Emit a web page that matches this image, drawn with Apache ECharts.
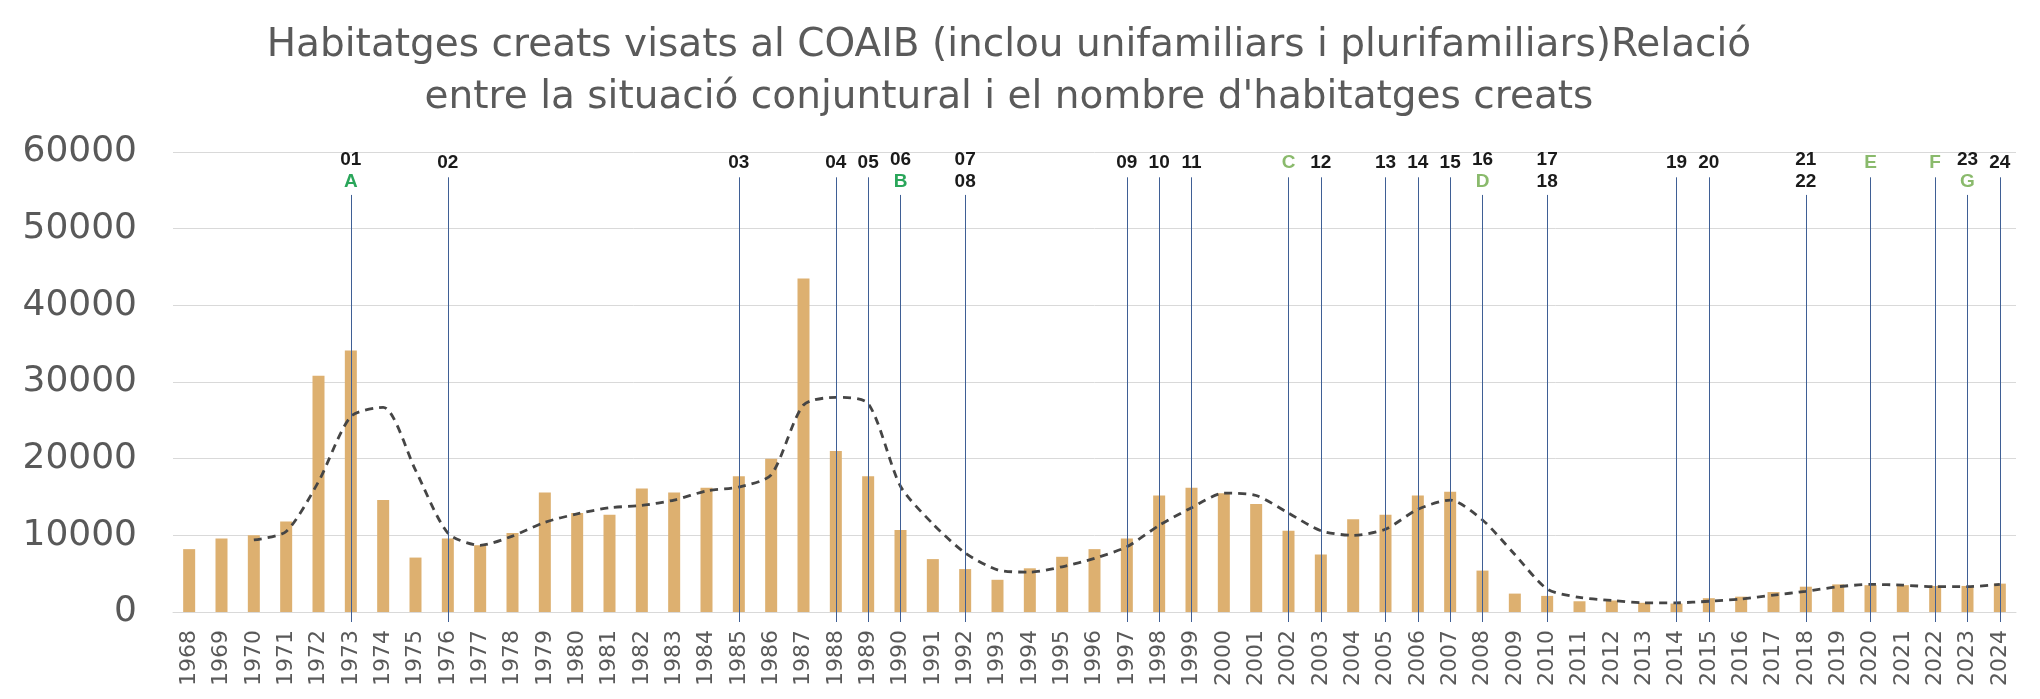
<!DOCTYPE html>
<html>
<head>
<meta charset="utf-8">
<script src="https://cdn.jsdelivr.net/npm/echarts@6/dist/echarts.min.js"></script>
<style>
  html, body { margin: 0; padding: 0; background: #fff; }
  #chart { width: 2040px; height: 699px; }
</style>
</head>
<body>
<div id="chart"></div>
<script>
const years = ['1968', '1969', '1970', '1971', '1972', '1973', '1974', '1975', '1976', '1977',
  '1978', '1979', '1980', '1981', '1982', '1983', '1984', '1985', '1986', '1987',
  '1988', '1989', '1990', '1991', '1992', '1993', '1994', '1995', '1996', '1997',
  '1998', '1999', '2000', '2001', '2002', '2003', '2004', '2005', '2006', '2007',
  '2008', '2009', '2010', '2011', '2012', '2013', '2014', '2015', '2016', '2017',
  '2018', '2019', '2020', '2021', '2022', '2023', '2024']

// habitatges creats (barres)
const habitatges = [8200, 9600, 10000, 11800, 30800, 34100, 14600, 7100, 9600, 8700,
  10300, 15600, 12900, 12700, 16100, 15600, 16200, 17700, 20000, 43500,
  21000, 17700, 10700, 6900, 5600, 4200, 5700, 7200, 8200, 9600,
  15200, 16200, 15500, 14100, 10600, 7500, 12100, 12700, 15200, 15700,
  5400, 2400, 2100, 1400, 1500, 1200, 1100, 1800, 2000, 2600,
  3300, 3600, 3500, 3500, 3400, 3400, 3700]

// tendència (línia discontínua)
const tendencia = [null, null, 9400, 10500, 17000, 25500, 26700, 18500, 10300, 8700,
  9900, 11700, 12800, 13600, 13900, 14600, 15800, 16300, 17900, 27000,
  28000, 27200, 16400, 11500, 7700, 5500, 5200, 5900, 7000, 8500,
  11300, 13600, 15500, 15200, 12900, 10600, 10000, 10800, 13400, 14600,
  12000, 7500, 3000, 1900, 1500, 1200, 1200, 1400, 1700, 2200,
  2700, 3300, 3600, 3500, 3300, 3300, 3600]

// marques de situació conjuntural
const markYears = ['1973', '1976', '1985', '1988', '1989', '1990', '1992', '1997', '1998', '1999',
  '2002', '2003', '2005', '2006', '2007', '2008', '2010', '2014', '2015', '2018',
  '2020', '2022', '2023', '2024']
const markTop = ['01', '02', '03', '04', '05', '06', '07', '09', '10', '11',
  'C', '12', '13', '14', '15', '16', '17', '19', '20', '21',
  'E', 'F', '23', '24']
const markBottom = ['A', '', '', '', '', 'B', '08', '', '', '',
  '', '', '', '', '', 'D', '18', '', '', '22',
  '', '', 'G', '']

const brightLetters = ['A', 'B']
const yTicks = ['0', '10000', '20000', '30000', '40000', '50000', '60000']

const styleOf = (t) => {
  if (/^\d+$/.test(t)) return 'n'
  return brightLetters.includes(t) ? 'g' : 'l'
}

const markData = markYears.map((y, i) => {
  const two = markBottom[i] !== ''
  let text = '{' + styleOf(markTop[i]) + '|' + markTop[i] + '}'
  if (two) text += '\n{' + styleOf(markBottom[i]) + '|' + markBottom[i] + '}'
  return [
    { coord: [y, 0], label: { formatter: text, distance: two ? 2 : 4 } },
    { coord: [y, two ? 54400 : 56700] }
  ]
})

const labelFont = { fontFamily: 'Liberation Sans', fontWeight: 'bold', fontSize: 19, lineHeight: 22 }

const chart = echarts.init(document.getElementById('chart'))

const options = {
  backgroundColor: '#fff',
  animation: false,
  title: {
    text: 'Habitatges creats visats al COAIB (inclou unifamiliars i plurifamiliars)Relació\nentre la situació conjuntural i el nombre d\'habitatges creats',
    left: 1004,
    top: 15,
    textAlign: 'center',
    textStyle: {
      fontFamily: 'DejaVu Sans',
      fontWeight: 'normal',
      fontSize: 39,
      lineHeight: 52,
      color: '#5a5a5a'
    }
  },
  grid: {
    left: 173,
    right: 24,
    top: 152,
    bottom: 87,
    containLabel: false
  },
  xAxis: {
    type: 'category',
    data: years,
    axisLine: { lineStyle: { color: '#d9d9d9' } },
    axisTick: {
      show: true,
      alignWithLabel: true,
      length: 10,
      interval: (idx, val) => markYears.includes(val),
      lineStyle: { color: '#3f5f95', width: 1 }
    },
    axisLabel: {
      interval: 0,
      rotate: 90,
      margin: 18,
      fontFamily: 'DejaVu Sans',
      fontSize: 22,
      color: '#595959'
    }
  },
  yAxis: {
    type: 'value',
    min: 0,
    max: 60000,
    interval: 10000,
    splitLine: { lineStyle: { color: '#d9d9d9' } },
    axisLabel: {
      margin: 36,
      fontFamily: 'DejaVu Sans',
      fontSize: 36,
      color: '#595959',
      formatter: (v) => yTicks[Math.round(v / 10000)]
    }
  },
  series: [
    {
      name: 'Habitatges',
      type: 'bar',
      data: habitatges,
      barWidth: 12,
      itemStyle: { color: '#ddb070' },
      markLine: {
        silent: true,
        symbol: ['none', 'none'],
        lineStyle: { color: '#3f5f95', width: 1, type: 'solid' },
        label: {
          position: 'end',
          rich: {
            n: Object.assign({ color: '#1a1a1a' }, labelFont),
            g: Object.assign({ color: '#2aa65a' }, labelFont),
            l: Object.assign({ color: '#8aba6c' }, labelFont)
          }
        },
        data: markData
      }
    },
    {
      name: 'Tendència',
      type: 'line',
      data: tendencia,
      smooth: 0.25,
      symbol: 'none',
      z: 3,
      lineStyle: { color: '#454545', width: 2.8, type: [8, 6] }
    }
  ]
}

chart.setOption(options)
</script>
</body>
</html>
